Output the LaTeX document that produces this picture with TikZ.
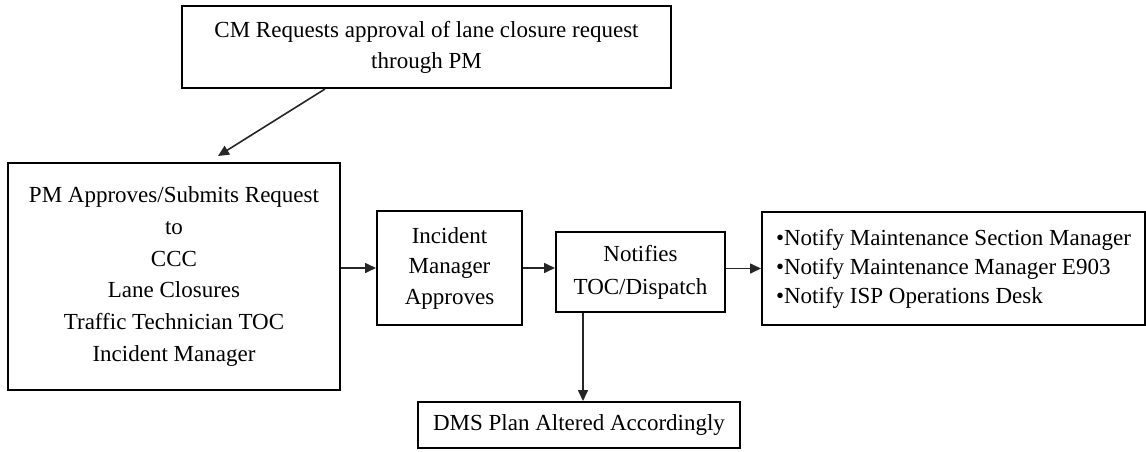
\documentclass[tikz,border=0pt]{standalone}
\usepackage{fontspec}
\setmainfont{Liberation Serif}
\usetikzlibrary{arrows.meta,calc}
\begin{document}
\begin{tikzpicture}[x=1pt,y=-1pt,
  box/.style={draw=black, line width=2pt, align=center, inner sep=0pt, font=\fontsize{23}{31}\selectfont},
  arr/.style={line width=1.6pt, draw=black!85, -{Triangle[length=11pt,width=10pt]}}]
\path[use as bounding box, fill=white] (0,0) rectangle (1146,452);
\node[box, minimum width=489pt, minimum height=82pt] (top) at (426.5,47)
  {CM Requests approval of lane closure request\\through PM};
\node[box, minimum width=332pt, minimum height=227pt, font=\fontsize{23}{31.8}\selectfont] (pm) at (174,276.5)
  {PM Approves/Submits Request\\to\\CCC\\Lane Closures\\Traffic Technician TOC\\Incident Manager};
\node[box, minimum width=145pt, minimum height=114pt, font=\fontsize{23}{30.5}\selectfont] (inc) at (449.5,268)
  {Incident\\Manager\\Approves};
\node[box, minimum width=169pt, minimum height=80pt, font=\fontsize{23}{33}\selectfont] (notif) at (640.5,272)
  {Notifies\\TOC/Dispatch};
\node[box, align=left, minimum width=383pt, minimum height=113pt, font=\fontsize{23}{29}\selectfont] (notify) at (953.5,268.5)
  {•Notify Maintenance Section Manager\\•Notify Maintenance Manager E903\\•Notify ISP Operations Desk};
\node[box, minimum width=322pt, minimum height=46pt] (dms) at (579,425)
  {DMS Plan Altered Accordingly};
\draw[arr] ($(top.south)+(-101.5,0)$) -- ($(pm.north)+(44,-6)$);
\draw[arr] (pm.east |- inc.west) -- (inc.west);
\draw[arr] (inc.east) -- (notif.west |- inc.east);
\draw[arr] (notif.east |- notify.west) -- (notify.west);
\coordinate (v) at ($(notif.south)+(-57.5,0)$);
\draw[arr] (v) -- (v |- dms.north);
\end{tikzpicture}
\end{document}
